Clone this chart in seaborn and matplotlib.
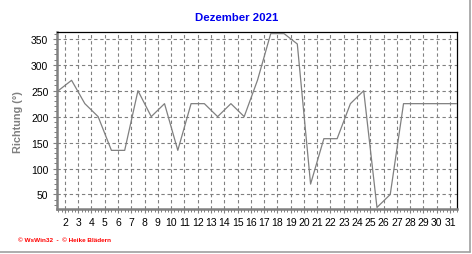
import matplotlib
matplotlib.use("Agg")
import matplotlib.pyplot as plt
import seaborn as sns
import numpy as np
import pandas as pd
from matplotlib.ticker import MultipleLocator, FixedLocator
from matplotlib.lines import Line2D

# ---- data ----
days = list(range(1, 32))
richtung = [250, 270, 225, 200, 135, 135, 250, 200, 225, 135,
            225, 225, 200, 225, 200, 270, 360, 360, 340, 70,
            157.5, 157.5, 225, 250, 25, 50, 225, 225, 225, 225, 225]
tick_days = list(range(2, 32))
y_ticks = [50, 100, 150, 200, 250, 300, 350]
title = "Dezember 2021"
ylabel = "Richtung (°)"
footer = "© WsWin32  -  © Heike Blädern"

df = pd.DataFrame({"tag": np.array(days) + 0.5, "richtung": richtung})

sns.set_theme(style="white")
plt.rcParams["font.family"] = ["Liberation Sans", "DejaVu Sans"]

fig = plt.figure(figsize=(4.72, 2.55), dpi=100)
ax = fig.add_axes([56.7 / 472, 1 - 210 / 255, (457.3 - 56.7) / 472, (210 - 33.3) / 255])

sns.lineplot(data=df, x="tag", y="richtung", ax=ax, color="#808080",
             linewidth=0.9, zorder=3)

ax.set_xlim(1.38, 31.55)
ax.set_ylim(22, 362.5)
ax.xaxis.set_major_locator(FixedLocator(tick_days))
ax.set_xticklabels([str(d) for d in tick_days])
ax.xaxis.set_minor_locator(MultipleLocator(0.25))
ax.yaxis.set_major_locator(FixedLocator(y_ticks))
ax.yaxis.set_minor_locator(MultipleLocator(10))

ax.grid(True, which="major", color="#808080", linestyle=(0, (3, 2.5)), linewidth=0.8)
ax.tick_params(axis="both", which="major", direction="out", length=3, width=0.8,
               color="#808080", labelsize=7.5, labelcolor="black", pad=3)
ax.tick_params(axis="both", which="minor", direction="out", length=2, width=0.7,
               color="#808080")
ax.tick_params(axis="x", which="both", bottom=True)
ax.tick_params(axis="y", which="both", left=True)

for s in ["left", "bottom"]:
    ax.spines[s].set_color("#808080")
    ax.spines[s].set_linewidth(1.8)
for s in ["top", "right"]:
    ax.spines[s].set_color("black")
    ax.spines[s].set_linewidth(0.9)

ax.set_xlabel("")
ax.set_ylabel(ylabel, color="#808080", fontsize=7.8, fontweight="bold", labelpad=6)

fig.text(237 / 472, 1 - 18 / 255, title, color="#0000ee", fontsize=8.2,
         fontweight="bold", ha="center", va="center")
fig.text(18 / 472, 1 - 241 / 255, footer, color="#ff0000", fontsize=4.6,
         fontweight="bold", ha="left", va="center")

# window frame lines (right and bottom)
fig.add_artist(Line2D([469.5 / 472, 469.5 / 472], [1 - 253 / 255, 1.0],
                      transform=fig.transFigure, color="#a0a0a0", linewidth=1.2))
fig.add_artist(Line2D([0, 469.5 / 472], [1 - 253 / 255, 1 - 253 / 255],
                      transform=fig.transFigure, color="#a0a0a0", linewidth=1.2))

fig.savefig("out.png", dpi=100)
